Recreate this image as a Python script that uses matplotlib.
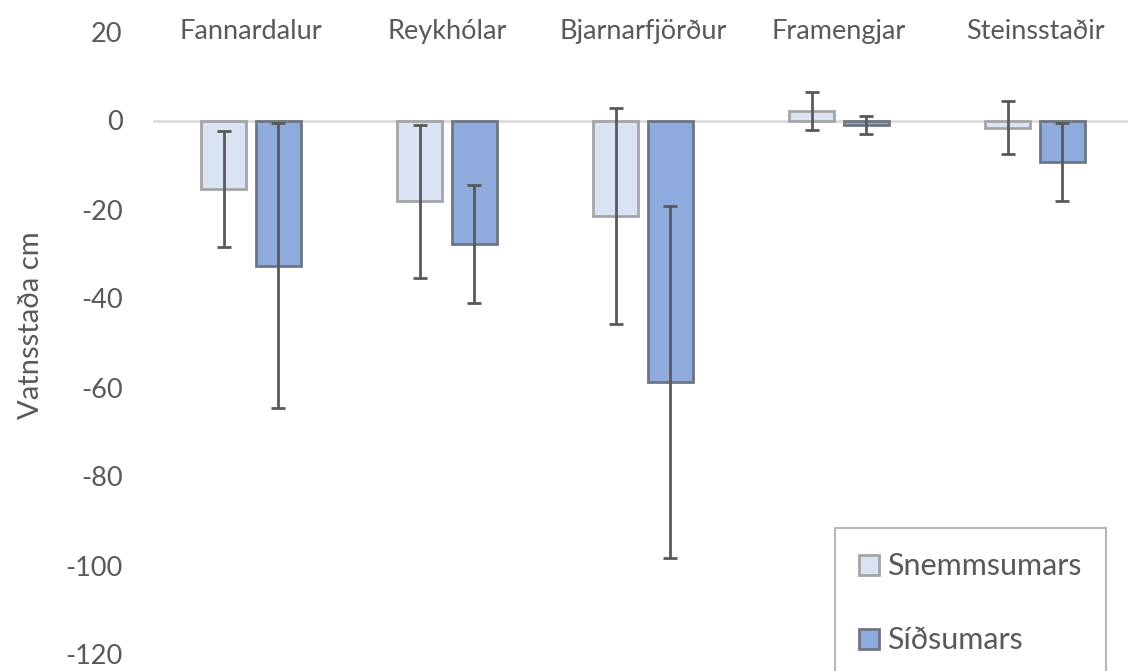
import matplotlib
matplotlib.use("Agg")
import matplotlib.pyplot as plt
import numpy as np

plt.rcParams['font.family'] = ['Lato', 'DejaVu Sans']

sites = ["Fannardalur", "Reykhólar", "Bjarnarfjörður", "Framengjar", "Steinsstaðir"]
series_names = ["Snemmsumars", "Síðsumars"]
snemm = [-15.4, -18.2, -21.5, 2.1, -1.6]
snemm_err = [13.0, 17.3, 24.3, 4.3, 6.0]
sid = [-32.6, -27.7, -58.8, -1.0, -9.4]
sid_err = [32.0, 13.2, 39.6, 2.0, 8.8]
yticks = [20, 0, -20, -40, -60, -80, -100, -120]

fig = plt.figure(figsize=(11.28, 6.71), dpi=100)
ax = fig.add_axes([153/1128, 1 - 654.5/671, 980/1128, (654.5 - 31.5)/671])

x = np.arange(len(sites))
w = 0.23
off = 0.14
text_col = "#595959"
err_kw = dict(ecolor="#595959", elinewidth=2, capsize=4.7, capthick=2)

ax.bar(x - off, snemm, w, color="#DAE3F3", edgecolor="#A5A5A5", linewidth=2,
       yerr=snemm_err, error_kw=err_kw, label=series_names[0], zorder=2)
ax.bar(x + off, sid, w, color="#8FAADC", edgecolor="#6E7683", linewidth=2,
       yerr=sid_err, error_kw=err_kw, label=series_names[1], zorder=2)

ax.axhline(0, color="#D9D9D9", linewidth=1.8, zorder=1)

ax.set_xlim(-0.5, len(sites) - 0.5)
ax.set_ylim(-120, 20)
ax.set_yticks(yticks)
ax.set_yticklabels([str(v) for v in yticks])
ax.tick_params(axis='y', length=0, pad=22, labelsize=19.5, labelcolor=text_col)
ax.set_xticks([])
for s in ax.spines.values():
    s.set_visible(False)

for i, name in enumerate(sites):
    ax.text(i, 20, name, ha='center', va='center', fontsize=19.5, color=text_col)

ax.set_ylabel("Vatnsstaða cm", fontsize=21, color=text_col, va='center')
ax.yaxis.set_label_coords(-0.1245, 0.529)

leg = fig.legend(loc='upper left', bbox_to_anchor=(835/1128, 1 - 528/671),
                 fontsize=22, frameon=True, fancybox=False, edgecolor="#A5A5A5",
                 handlelength=0.63, handleheight=0.63, handletextpad=0.27,
                 labelspacing=1.5, borderpad=0.8, borderaxespad=0)
leg.get_frame().set_linewidth(1.5)
for t in leg.get_texts():
    t.set_color(text_col)

fig.savefig("out.png", dpi=100)
